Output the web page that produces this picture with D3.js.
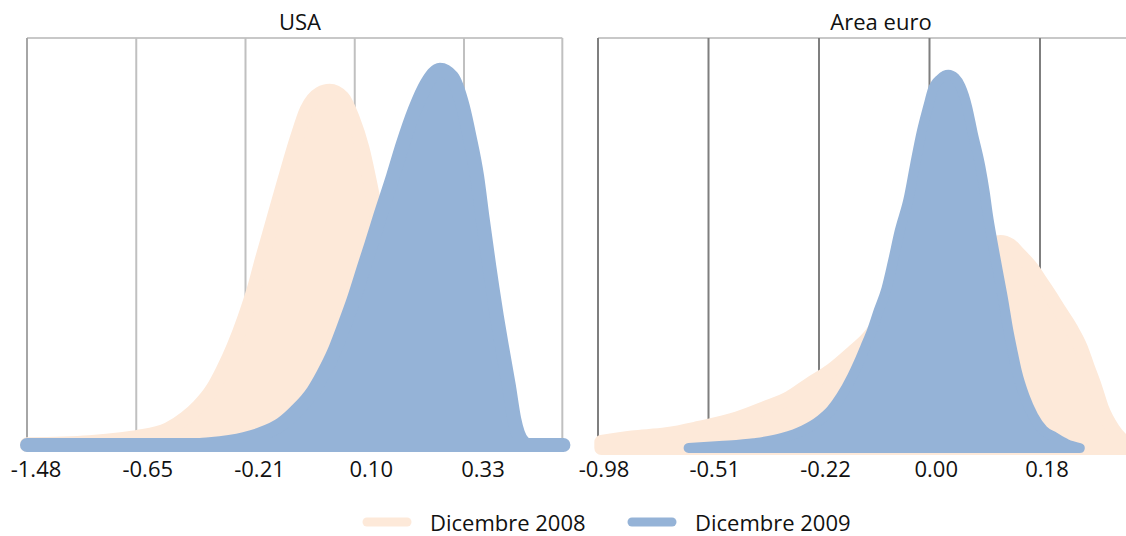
<!DOCTYPE html>
<html><head><meta charset="utf-8">
<script src="https://cdn.jsdelivr.net/npm/d3@7"></script>
<style>
html,body{margin:0;padding:0;background:#fff;}
svg{display:block;font-family:"Open Sans",sans-serif;}
</style></head>
<body>
<svg id="c" width="1126" height="536"></svg>
<script>
// ---- data (x = position in quantile-index units, v = density, arbitrary units) ----
const seriesNames = ["Dicembre 2008", "Dicembre 2009"];
const panelTitles = ["USA", "Area euro"];
const usaTickLabels = ["-1.48", "-0.65", "-0.21", "0.10", "0.33"];
const euroTickLabels = ["-0.98", "-0.51", "-0.22", "0.00", "0.18"];

const usa2008X = [0.00,0.57,0.88,1.01,1.29,1.45,1.57,1.70,1.79,1.89,1.99,2.08,2.15,2.25,2.36,2.47,2.56,2.68,2.77,2.89,2.98,3.07,3.14,3.21,3.32,3.41,3.51,3.60,3.69,3.83,3.96,4.15];
const usa2008V = [0.2,0.7,1.5,2.0,3.9,6.7,9.6,14.0,18.5,24.4,31.5,39.0,46.0,55.5,66.0,76.0,83.0,87.0,87.7,86.0,81.0,73.5,65.0,55.5,41.5,29.0,18.7,11.6,6.7,2.2,0.5,0];

const usa2009X = [0.00,1.58,1.67,1.99,2.14,2.33,2.46,2.62,2.71,2.81,2.90,2.99,3.09,3.15,3.23,3.35,3.44,3.55,3.66,3.78,3.89,3.99,4.05,4.12,4.17,4.23,4.26,4.30,4.35,4.41,4.46,4.54,4.59,4.91];
const usa2009V = [0,0,0.2,1.5,2.7,5.2,8.3,13.3,17.5,23.0,29.3,36.0,44.5,49.5,56.5,66.5,74.5,83.0,89.5,92.9,91.1,83.7,76.4,66.5,56.2,44.5,39.0,32.0,24.0,14.8,6.4,0.7,0,0];

const euro2008X = [0.03,0.31,0.62,0.90,1.26,1.51,1.73,1.92,2.11,2.30,2.44,2.55,2.82,3.10,3.37,3.57,3.64,3.73,3.81,3.94,4.00,4.09,4.18,4.28,4.37,4.43,4.50,4.56,4.66,4.78,4.90];
const euro2008V = [1.5,2.6,3.4,4.9,7.3,9.9,12.4,15.9,19.2,23.6,27.1,31.0,37.2,42.1,47.0,50.5,51.0,50.2,48.0,44.0,41.5,37.8,33.9,29.6,24.8,20.2,15.0,9.9,4.7,1.2,0];

const euro2009X = [0.82,1.10,1.41,1.67,1.86,2.01,2.11,2.20,2.30,2.36,2.42,2.48,2.54,2.61,2.67,2.73,2.81,2.87,2.93,2.99,3.03,3.10,3.17,3.23,3.28,3.34,3.39,3.46,3.50,3.53,3.57,3.62,3.67,3.71,3.75,3.79,3.86,3.94,4.03,4.13,4.24,4.36];
const euro2009V = [0,0.5,1.2,2.5,4.4,6.9,9.4,12.8,17.7,21.2,25.1,29.1,34.0,39.4,46.3,53.7,61.6,70.2,78.3,84.7,88.7,91.4,92.4,91.6,89.5,84.5,78.1,69.7,63.3,57.4,51.0,43.6,36.2,29.6,24.1,19.0,12.8,7.9,4.4,2.7,1.0,0];

const colors = ["#FDE9D9", "#95B3D7"];

// ---- layout ----
const svg = d3.select("#c");
const topY = 38;

const panels = [
  {title: panelTitles[0], labels: usaTickLabels, x0: 27, step: 109.25, right: 4.9, base: 445, gridColor: "#c0c0c0", firstGrid: "#a6a6a6", border: true,
   series: [{x: usa2008X, v: usa2008V, sw: 14}, {x: usa2009X, v: usa2009V, sw: 14}], labelOffset: [9, 19], titleX: 300},
  {title: panelTitles[1], labels: euroTickLabels, x0: 598, step: 110.5, right: 4.9, base: 448, gridColor: "#7f7f7f", firstGrid: "#7f7f7f", border: false,
   series: [{x: euro2008X, v: euro2008V, sw: 14}, {x: euro2009X, v: euro2009V, sw: 10}], labelOffset: [6, 7], titleX: 881}
];

panels.forEach(p => {
  const x = d3.scaleLinear().domain([0, 1]).range([p.x0, p.x0 + p.step]);
  const y = d3.scaleLinear().domain([0, 100]).range([p.base, p.base - 404]);
  const g = svg.append("g");
  const xr = p.border ? x(p.right) : 1126;
  g.append("line").attr("x1", x(0)).attr("x2", xr).attr("y1", topY).attr("y2", topY)
    .attr("stroke", "#c8c8c8").attr("stroke-width", 2);
  const gridIdx = d3.range(0, 5);
  g.selectAll("line.grid").data(gridIdx).join("line").attr("class", "grid")
    .attr("x1", d => x(d)).attr("x2", d => x(d)).attr("y1", topY).attr("y2", p.base)
    .attr("stroke", d => d === 0 ? p.firstGrid : p.gridColor).attr("stroke-width", 2);
  if (p.border) {
    g.append("line").attr("x1", xr).attr("x2", xr).attr("y1", topY).attr("y2", p.base)
      .attr("stroke", "#c0c0c0").attr("stroke-width", 2);
  }
  p.series.forEach((s, i) => {
    const pts = s.x.map((xx, j) => [xx, s.v[j]]);
    const area = d3.area().x(d => x(d[0])).y0(y(0)).y1(d => y(d[1])).curve(d3.curveMonotoneX);
    g.append("path").datum(pts).attr("d", area)
      .attr("fill", colors[i]).attr("stroke", colors[i]).attr("stroke-width", s.sw)
      .attr("stroke-linejoin", "round");
  });
  const lx = d3.scaleLinear().domain([0, 4]).range([x(0) + p.labelOffset[0], x(4) + p.labelOffset[1]]);
  g.selectAll("text.tick").data(p.labels).join("text").attr("class", "tick")
    .attr("x", (d, i) => lx(i)).attr("y", 477).attr("text-anchor", "middle")
    .attr("font-size", 22).attr("fill", "#111").text(d => d);
  g.append("text").attr("x", p.titleX).attr("y", 30).attr("text-anchor", "middle")
    .attr("font-size", 22).attr("fill", "#111").text(p.title);
});

// legend
const legX = d3.scaleOrdinal().domain(seriesNames).range([367, 632]);
const leg = svg.append("g");
seriesNames.forEach((n, i) => {
  const lx = legX(n);
  leg.append("line").attr("x1", lx).attr("x2", lx + 40).attr("y1", 522).attr("y2", 522)
    .attr("stroke", colors[i]).attr("stroke-width", 9).attr("stroke-linecap", "round");
  leg.append("text").attr("x", lx + 63).attr("y", 531).attr("font-size", 22).attr("fill", "#111").text(n);
});
</script>
</body></html>
